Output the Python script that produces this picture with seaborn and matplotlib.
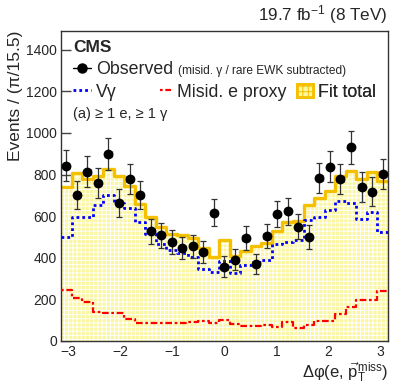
import numpy as np
import pandas as pd
import matplotlib
matplotlib.use("Agg")
import matplotlib.pyplot as plt
import seaborn as sns
from matplotlib.lines import Line2D
from matplotlib.patches import Patch
from matplotlib.ticker import MultipleLocator

# ---------------- data ----------------
n_bins = 31
bin_edges = np.linspace(-np.pi, np.pi, n_bins + 1)
bin_centers = 0.5 * (bin_edges[:-1] + bin_edges[1:])
bin_halfwidth = 0.5 * (bin_edges[1] - bin_edges[0])

observed = [843, 702, 814, 760, 898, 665, 779, 702, 528, 507, 475, 447, 455, 427,
            616, 357, 390, 495, 370, 505, 611, 624, 550, 499, 784, 837, 778, 930,
            741, 717, 802]
observed_err = [76, 69, 74, 72, 78, 67, 73, 69, 60, 59, 57, 55, 56, 54, 65, 49,
                51, 58, 50, 58, 64, 65, 61, 58, 73, 75, 73, 79, 71, 70, 74]
v_gamma = [502, 598, 598, 654, 702, 662, 638, 572, 512, 466, 435, 422, 405, 345,
           333, 385, 326, 366, 381, 390, 465, 475, 486, 582, 598, 630, 673, 665,
           587, 622, 526]
misid_e = [245, 208, 186, 141, 133, 133, 106, 85, 85, 84, 84, 85, 90, 96, 84, 101,
           80, 72, 72, 77, 67, 90, 64, 77, 98, 96, 128, 164, 197, 197, 242]
fit_total = [742, 805, 778, 792, 828, 795, 745, 658, 598, 548, 516, 508, 495, 445,
             405, 486, 409, 434, 454, 470, 530, 572, 575, 654, 688, 722, 795, 816,
             780, 812, 768]

x_ticks = [-3, -2, -1, 0, 1, 2, 3]
y_ticks = [0, 200, 400, 600, 800, 1000, 1200, 1400]

# ---------------- style ----------------
sns.set_theme(style="ticks")
plt.rcParams["font.family"] = ["Liberation Sans", "DejaVu Sans"]
plt.rcParams["mathtext.fontset"] = "custom"
plt.rcParams["mathtext.rm"] = "Liberation Sans"
plt.rcParams["mathtext.it"] = "Liberation Sans:italic"
plt.rcParams["mathtext.bf"] = "Liberation Sans:bold"
plt.rcParams["hatch.color"] = "white"
plt.rcParams["hatch.linewidth"] = 0.7

ORANGE = "#f5c000"
FILL = "#fbf6a0"
BLUE = "#0000ff"
RED = "#ff0000"

fig = plt.figure(figsize=(4.07, 3.87), dpi=100)
ax = fig.add_axes([0.150, 0.119, 0.803, 0.801])

def step_y(vals):
    return np.append(vals, vals[-1])

# fit total: hatched yellow fill + orange outline
ax.fill_between(bin_edges, step_y(fit_total), step="post", facecolor=FILL,
                edgecolor="white", hatch="++++", linewidth=0, zorder=1)
sns.lineplot(x=bin_edges, y=step_y(fit_total), drawstyle="steps-post",
             color=ORANGE, linewidth=2.4, estimator=None, sort=False, ax=ax,
             zorder=2)
# V gamma
sns.lineplot(x=bin_edges, y=step_y(v_gamma), drawstyle="steps-post",
             color=BLUE, linewidth=2.0, linestyle=(0, (1, 1.1)), estimator=None,
             sort=False, ax=ax, zorder=3)
# misid e proxy
sns.lineplot(x=bin_edges, y=step_y(misid_e), drawstyle="steps-post",
             color=RED, linewidth=1.6, linestyle=(0, (1.2, 1.2, 3, 1.2)),
             estimator=None, sort=False, ax=ax, zorder=3)

# observed
ax.errorbar(bin_centers, observed, yerr=observed_err, xerr=bin_halfwidth * 0.6,
            fmt="none", ecolor="#333333", elinewidth=0.9, capsize=2,
            capthick=0.9, zorder=4)
sns.scatterplot(x=bin_centers, y=observed, color="black", s=50,
                edgecolor="black", linewidth=0, ax=ax, zorder=5)

# axes
ax.set_xlim(-np.pi, np.pi)
ax.set_ylim(0, 1490)
ax.set_xticks(x_ticks)
ax.set_xticklabels(["\u22123", "\u22122", "\u22121", "0", "1", "2", "3"])
ax.xaxis.set_minor_locator(MultipleLocator(0.5))
ax.set_yticks(y_ticks)
ax.tick_params(axis="both", which="major", direction="in", length=7,
               width=1.0, labelsize=10, color="#444444", pad=3)
ax.tick_params(axis="x", which="minor", direction="in", length=4,
               width=1.0, color="#444444")
ax.tick_params(top=False, right=False)
for sp in ax.spines.values():
    sp.set_linewidth(1.0)
    sp.set_color("#333333")
    sp.set_visible(True)

ax.set_ylabel("Events / (\u03c0/15.5)", loc="top", fontsize=12.5)
ax.set_xlabel("\u0394\u03c6(e, $\\vec{\\mathrm{p}}_{\\mathrm{T}}^{\\mathrm{miss}}$)",
              loc="right", fontsize=12, labelpad=0)
ax.xaxis.label.set_va("bottom")
ax.yaxis.set_label_coords(-0.115, 1.0)
ax.xaxis.set_label_coords(1.0, -0.143)

# texts
fig.text(0.953, 0.962, "19.7 fb$^{-1}$ (8 TeV)", ha="right", va="center",
         fontsize=12.3)
ax.text(0.037, 0.948, "CMS", transform=ax.transAxes, fontsize=12.5,
        fontweight="bold", va="center", ha="left")
ax.text(0.358, 0.872, "(misid. \u03b3 / rare EWK subtracted)",
        transform=ax.transAxes, fontsize=8.6, va="center", ha="left")
ax.text(0.037, 0.732, "(a) \u2265 1 e, \u2265 1 \u03b3", transform=ax.transAxes,
        fontsize=10.5, va="center", ha="left")

# legend entries
def add_leg(handle, label, x, y, hl=1.0):
    leg = ax.legend(handles=[handle], labels=[label], loc="center left",
                    bbox_to_anchor=(x, y), frameon=False, fontsize=12.8,
                    handlelength=hl, handletextpad=0.3, borderpad=0,
                    borderaxespad=0)
    ax.add_artist(leg)
    return leg

obs_h = Line2D([], [], color="black", marker="o", markersize=6.5, lw=1.0)
vg_h = Line2D([], [], color=BLUE, lw=2.0, linestyle=(0, (1, 1.1)))
red_h = Line2D([], [], color=RED, lw=1.6, linestyle=(0, (1.2, 1.2, 3, 1.2)))
fit_h = Patch(facecolor=FILL, edgecolor=ORANGE, linewidth=2.0, hatch="+++")
add_leg(obs_h, "Observed", 0.037, 0.875)
add_leg(vg_h, "V\u03b3", 0.037, 0.803)
add_leg(red_h, "Misid. e proxy", 0.302, 0.803, hl=0.65)
add_leg(fit_h, "Fit total", 0.722, 0.803, hl=0.9)

fig.savefig("out.png", dpi=100)
